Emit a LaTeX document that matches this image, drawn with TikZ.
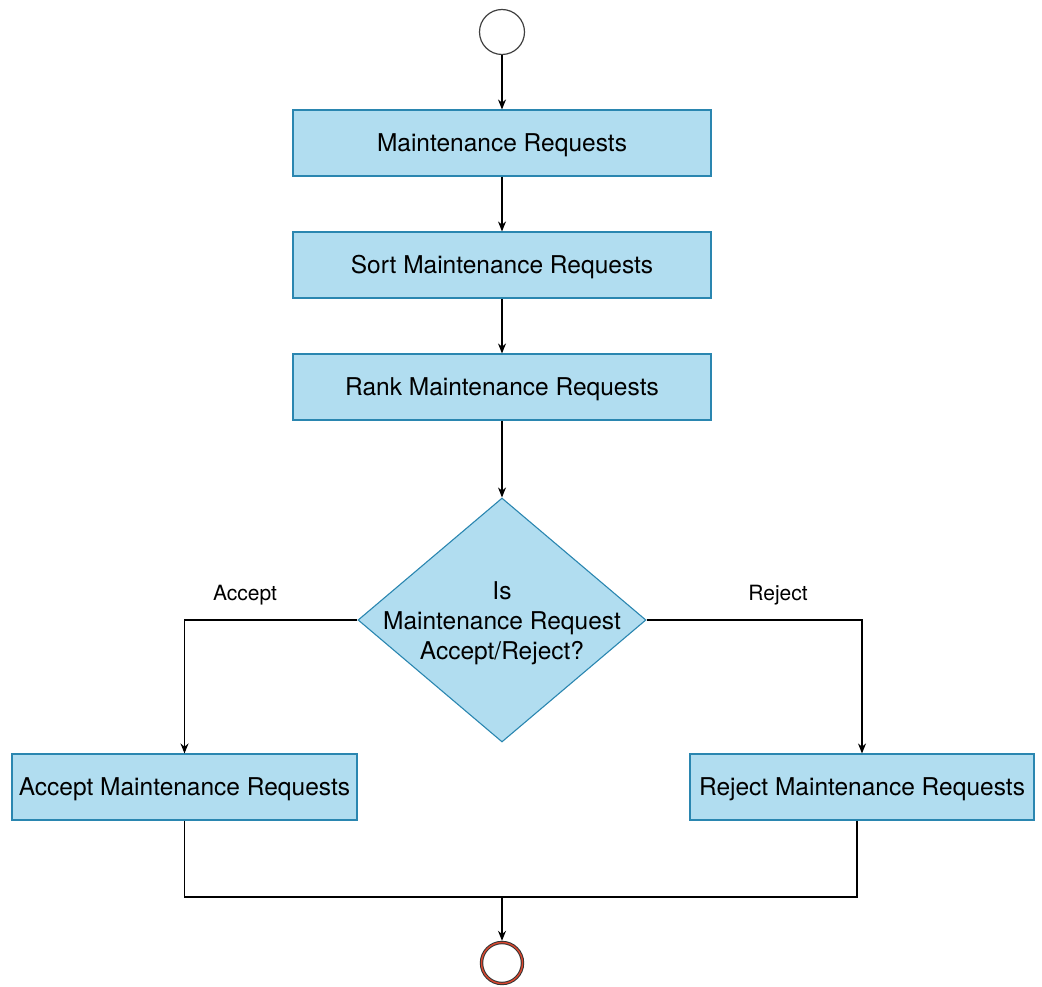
\documentclass[tikz,border=0pt]{standalone}
\usepackage{fontspec}
\setmainfont{TeX Gyre Heros}
\usetikzlibrary{shapes.geometric,arrows.meta}
\definecolor{boxfill}{HTML}{B1DDF0}
\definecolor{boxline}{HTML}{2A86B0}
\definecolor{endred}{HTML}{D9462E}
\begin{document}
\begin{tikzpicture}[x=1pt,y=-1pt,
  proc/.style={rectangle,draw=boxline,fill=boxfill,line width=1.1pt,
    minimum height=66pt,inner sep=0pt,font=\fontsize{24.5}{29}\selectfont,
    text depth=0pt,text height=0pt},
  decision/.style={diamond,draw=boxline,fill=boxfill,line width=1.1pt,
    minimum width=288pt,minimum height=244pt,inner sep=0pt},
  arr/.style={-{Stealth[length=10pt,width=8pt]},line width=1.1pt},
  link/.style={line width=1.1pt},
  lbl/.style={font=\fontsize{21}{25}\selectfont}]
\useasboundingbox (0,0) rectangle (1042,987);

% start and end states
\node[circle,draw=black!75,line width=1.2pt,minimum size=45pt,inner sep=0pt] (start) at (502,32) {};
\node[circle,draw=black!80,line width=3.4pt,minimum size=41pt,inner sep=0pt,
  postaction={draw=endred,line width=1.4pt}] (stop) at (502,963) {};

% process steps
\node[proc,minimum width=418pt] (mr)   at (502,143) {\raisebox{-8.5pt}{Maintenance Requests}};
\node[proc,minimum width=418pt] (sort) at (502,265) {\raisebox{-8.5pt}{Sort Maintenance Requests}};
\node[proc,minimum width=418pt] (rank) at (502,387) {\raisebox{-8.5pt}{Rank Maintenance Requests}};

% decision
\node[decision] (dec) at (502,620) {};
\node[align=center,font=\fontsize{24.5}{30}\selectfont] (dectext) at (502,623)
  {Is\\Maintenance Request\\Accept/Reject?};

% outcomes
\node[proc,minimum width=345pt] (acc) at (184.5,787) {\raisebox{-8.5pt}{Accept Maintenance Requests}};
\node[proc,minimum width=344pt] (rej) at (862,787) {\raisebox{-8.5pt}{Reject Maintenance Requests}};

% branch labels
\node[lbl] (lacc) at (245,595) {Accept};
\node[lbl] (lrej) at (778,595) {Reject};

% connectors
\draw[arr] (start) -- (mr);
\draw[arr] (mr) -- (sort);
\draw[arr] (sort) -- (rank);
\draw[arr] (rank) -- (dec);
\draw[arr] (dec.west) -| (acc.north);
\draw[arr] (dec.east) -| (rej.north);

\coordinate (merge) at (502,897);
\draw[link] (acc.south) |- (merge);
\draw[link] ([xshift=-5pt]rej.south) |- (merge);
\draw[arr] (merge) -- (stop);
\end{tikzpicture}
\end{document}
